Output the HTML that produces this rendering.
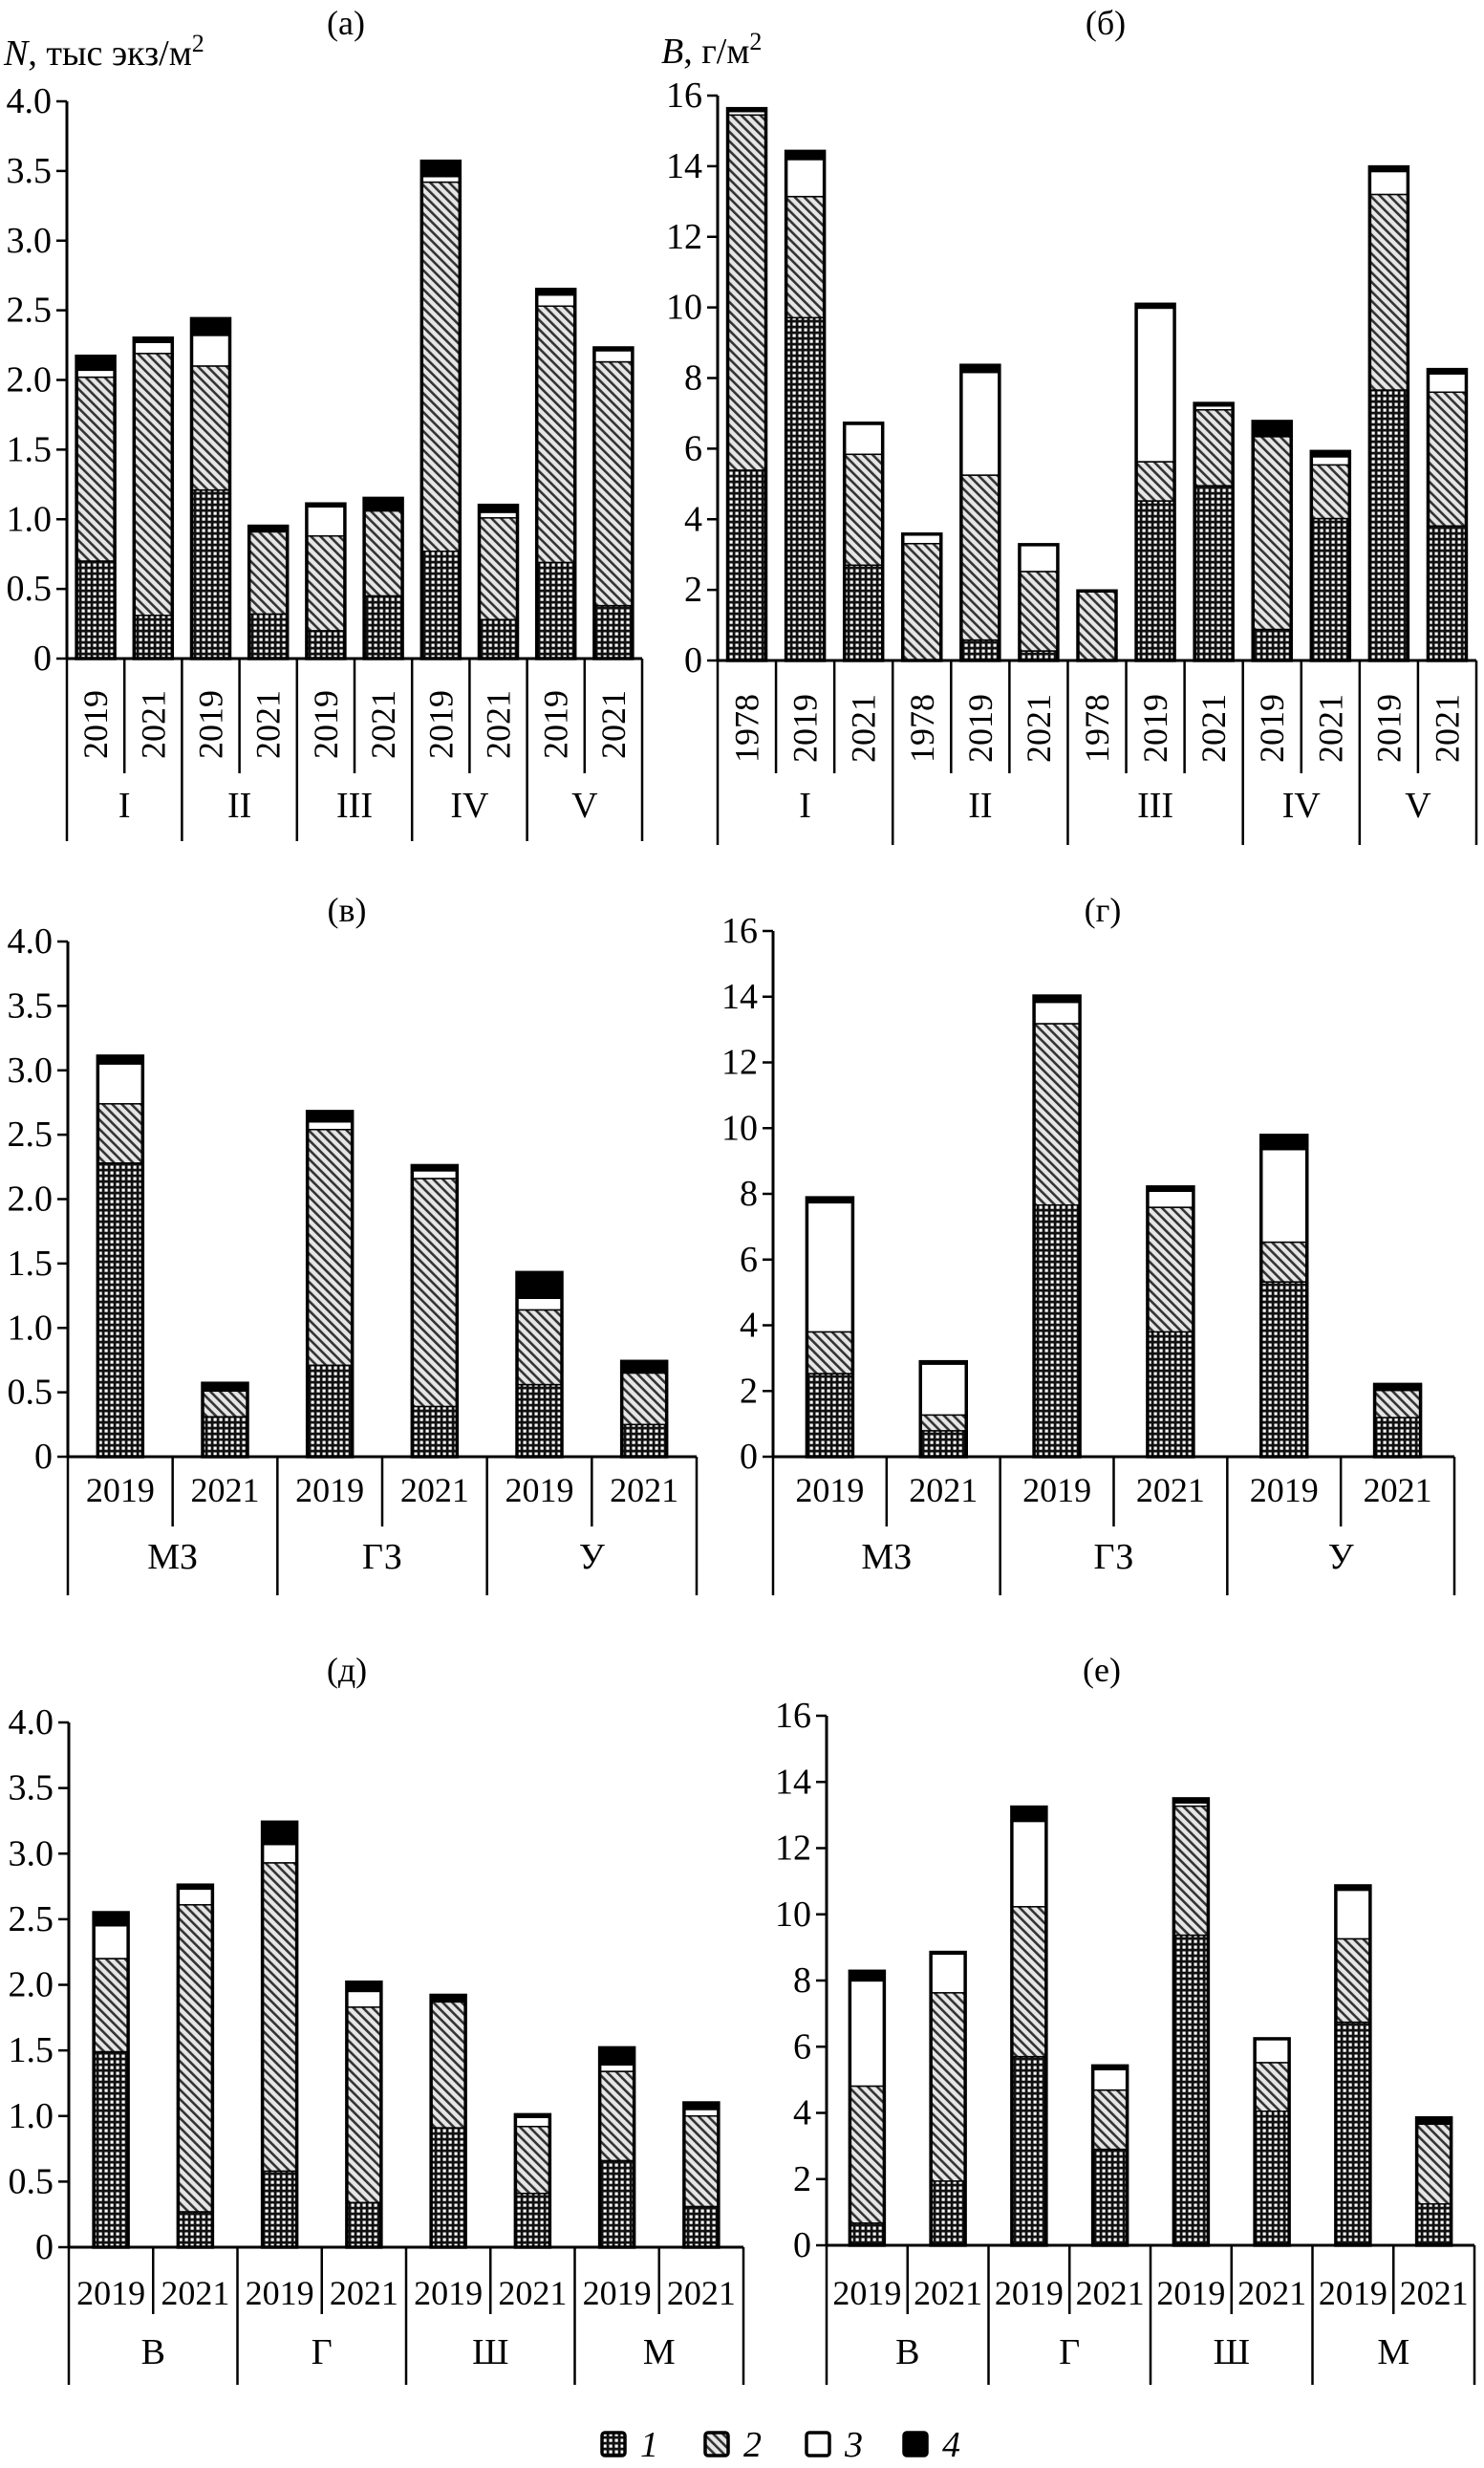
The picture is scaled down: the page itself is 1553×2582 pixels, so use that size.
<!DOCTYPE html>
<html><head><meta charset="utf-8">
<style>
html,body{margin:0;padding:0;background:#fff;}
svg{display:block;}
text{font-family:"Liberation Serif","DejaVu Serif",serif;fill:#000;}
</style></head>
<body>
<svg id="chart" xmlns="http://www.w3.org/2000/svg" width="1553" height="2582" viewBox="0 0 1553 2582">
<defs>
<pattern id="pGrid" patternUnits="userSpaceOnUse" width="6" height="6">
<rect width="6" height="6" fill="#111"/>
<rect x="1.5" y="1.5" width="3.2" height="3.2" fill="#fff"/>
</pattern>
<pattern id="pHatch" patternUnits="userSpaceOnUse" width="7" height="7" patternTransform="rotate(-45)">
<rect width="7" height="7" fill="#e6e6e6"/>
<rect x="0" y="0" width="2.6" height="7" fill="#333"/>
</pattern>
</defs>
<g id="layer"></g>
</svg>
<script>
// ===== Data =====
const catsA = ['2019','2021','2019','2021','2019','2021','2019','2021','2019','2021'];
const groupsA = ['I','II','III','IV','V'];
const groupSizesA = [2,2,2,2,2];
const a1 = [0.70,0.31,1.21,0.32,0.20,0.45,0.77,0.28,0.69,0.38];
const a2 = [1.32,1.88,0.89,0.59,0.68,0.61,2.65,0.73,1.84,1.75];
const a3 = [0.05,0.08,0.22,0.00,0.21,0.00,0.04,0.04,0.08,0.08];
const a4 = [0.10,0.03,0.12,0.04,0.02,0.09,0.11,0.05,0.04,0.02];
const ticksA = ['0','0.5','1.0','1.5','2.0','2.5','3.0','3.5','4.0'];
const catsB = ['1978','2019','2021','1978','2019','2021','1978','2019','2021','2019','2021','2019','2021'];
const groupsB = ['I','II','III','IV','V'];
const groupSizesB = [3,3,3,2,2];
const b1 = [5.39,9.71,2.70,0.00,0.58,0.27,0.00,4.52,4.95,0.88,4.02,7.66,3.81];
const b2 = [10.06,3.43,3.14,3.31,4.67,2.25,1.97,1.11,2.15,5.46,1.52,5.54,3.79];
const b3 = [0.10,1.05,0.85,0.27,2.91,0.76,0.00,4.35,0.11,0.00,0.23,0.65,0.52];
const b4 = [0.08,0.23,0.03,0.00,0.20,0.00,0.00,0.11,0.07,0.43,0.15,0.13,0.12];
const ticksB = ['0','2','4','6','8','10','12','14','16'];
const catsV = ['2019','2021','2019','2021','2019','2021'];
const groupsV = ['МЗ','ГЗ','У'];
const groupSizesV = [2,2,2];
const v1 = [2.28,0.31,0.71,0.39,0.56,0.25];
const v2 = [0.46,0.20,1.83,1.77,0.58,0.40];
const v3 = [0.31,0.00,0.06,0.06,0.09,0.00];
const v4 = [0.06,0.06,0.08,0.04,0.20,0.09];
const catsG = ['2019','2021','2019','2021','2019','2021'];
const groupsG = ['МЗ','ГЗ','У'];
const groupSizesG = [2,2,2];
const g1 = [2.53,0.79,7.66,3.80,5.32,1.19];
const g2 = [1.27,0.48,5.52,3.79,1.21,0.83];
const g3 = [3.93,1.55,0.65,0.49,2.82,0.00];
const g4 = [0.15,0.07,0.19,0.13,0.43,0.18];
const catsD = ['2019','2021','2019','2021','2019','2021','2019','2021'];
const groupsD = ['В','Г','Ш','М'];
const groupSizesD = [2,2,2,2];
const d1 = [1.49,0.27,0.58,0.34,0.91,0.41,0.66,0.31];
const d2 = [0.71,2.34,2.35,1.49,0.96,0.51,0.68,0.69];
const d3 = [0.25,0.12,0.14,0.12,0.00,0.07,0.05,0.05];
const d4 = [0.10,0.03,0.17,0.07,0.05,0.02,0.13,0.05];
const catsE = ['2019','2021','2019','2021','2019','2021','2019','2021'];
const groupsE = ['В','Г','Ш','М'];
const groupSizesE = [2,2,2,2];
const e1 = [0.67,1.94,5.70,2.90,9.37,4.05,6.74,1.25];
const e2 = [4.14,5.69,4.53,1.79,3.90,1.47,2.52,2.41];
const e3 = [3.18,1.17,2.58,0.62,0.10,0.72,1.47,0.00];
const e4 = [0.29,0.05,0.43,0.11,0.12,0.00,0.13,0.19];
const legendLabels = ['1','2','3','4'];

// ===== Rendering =====
const NS = 'http://www.w3.org/2000/svg';
const layer = document.getElementById('layer');
function mk(tag, attrs, parent){
  const el = document.createElementNS(NS, tag);
  for (const k in attrs) el.setAttribute(k, attrs[k]);
  (parent||layer).appendChild(el);
  return el;
}
const fills = ['url(#pGrid)','url(#pHatch)','#fff','#000'];
const segNames = ['seg-group-1','seg-group-2','seg-group-3','seg-group-4'];

function drawPanel(p){
  const g = mk('g', {});
  
  
  const n = p.cats.length;
  const cw = (p.right - p.ax) / n;
  const yScale = v => p.y0 - v * (p.y0 - p.ytop) / p.max;
  const t = mk('text', {x:p.titleX, y:p.titleY, 'font-size':36, 'text-anchor':'middle', 'dominant-baseline':'central'}, g);
  t.textContent = p.title;
  
  
  for (let i=0;i<n;i++){
    const cx = p.ax + cw*(i+0.5);
    const bx = cx - p.bw/2;
    let acc = 0;
    const bg = mk('g', {}, g);
    
    
    for (let s=0;s<4;s++){
      const v = p.series[s][i];
      if (v <= 0) continue;
      const yTop = yScale(acc + v), yBot = yScale(acc);
      const r = mk('rect', {x:bx, y:yTop, width:p.bw, height:Math.max(0,yBot-yTop), fill:fills[s], stroke:'#000', 'stroke-width':1.5}, bg);
      
      
      acc += v;
    }
    const outline = mk('rect', {x:bx, y:yScale(acc), width:p.bw, height:p.y0 - yScale(acc), fill:'none', stroke:'#000', 'stroke-width':3.5}, bg);
    
    
    let yl;
    if (p.rotate){
      yl = mk('text', {x:cx, y:p.yearY, 'font-size':36, 'text-anchor':'middle', 'dominant-baseline':'central', transform:'rotate(-90 '+cx+' '+p.yearY+')'}, g);
    } else {
      yl = mk('text', {x:cx, y:p.yearY, 'font-size':36, 'text-anchor':'middle', 'dominant-baseline':'central'}, g);
    }
    yl.textContent = p.cats[i];
    
    
  }
  const yAxis = mk('line', {x1:p.ax, y1:p.ytop, x2:p.ax, y2:p.y0, stroke:'#000', 'stroke-width':3}, g);
  
  
  const xAxis = mk('line', {x1:p.ax, y1:p.y0, x2:p.right, y2:p.y0, stroke:'#000', 'stroke-width':3}, g);
  
  
  for (let k=0;k<p.ticks.length;k++){
    const v = p.max * k/(p.ticks.length-1);
    const y = yScale(v);
    const tk = mk('line', {x1:p.ax-11, y1:y, x2:p.ax, y2:y, stroke:'#000', 'stroke-width':2.5}, g);
    
    
    const tl = mk('text', {x:p.ax-16, y:y, 'font-size':38, 'text-anchor':'end', 'dominant-baseline':'central'}, g);
    tl.textContent = p.ticks[k];
    
    
  }
  let idx = 0;
  const bounds = [0];
  p.sizes.forEach(s => { idx += s; bounds.push(idx); });
  for (let i=0;i<=n;i++){
    const x = p.ax + cw*i;
    const isGroup = bounds.indexOf(i) >= 0;
    const ln = mk('line', {x1:x, y1:p.y0, x2:x, y2:isGroup ? p.groupLineEnd : p.yearLineEnd, stroke:'#000', 'stroke-width':2.5}, g);
    
    
  }
  for (let gi=0; gi<p.groups.length; gi++){
    const cx = p.ax + cw*(bounds[gi] + bounds[gi+1])/2;
    const gl = mk('text', {x:cx, y:p.groupY, 'font-size':38, 'text-anchor':'middle', 'dominant-baseline':'central'}, g);
    gl.textContent = p.groups[gi];
    
    
  }
}

const panels = [
  {name:'panel-a', title:'(а)', titleX:362, titleY:24, ax:70, right:672, y0:689, ytop:106, max:4, ticks:ticksA,
   bw:40, cats:catsA, groups:groupsA, sizes:groupSizesA, series:[a1,a2,a3,a4], rotate:true,
   yearY:758, yearLineEnd:809, groupY:843, groupLineEnd:880},
  {name:'panel-b', title:'(б)', titleX:1157, titleY:24, ax:751, right:1545, y0:691, ytop:100, max:16, ticks:ticksB,
   bw:40, cats:catsB, groups:groupsB, sizes:groupSizesB, series:[b1,b2,b3,b4], rotate:true,
   yearY:762, yearLineEnd:809, groupY:843, groupLineEnd:884},
  {name:'panel-v', title:'(в)', titleX:363, titleY:952, ax:71, right:729, y0:1524, ytop:985, max:4, ticks:ticksA,
   bw:47, cats:catsV, groups:groupsV, sizes:groupSizesV, series:[v1,v2,v3,v4], rotate:false,
   yearY:1559, yearLineEnd:1597, groupY:1629, groupLineEnd:1669},
  {name:'panel-g', title:'(г)', titleX:1154, titleY:952, ax:809, right:1522, y0:1524, ytop:974, max:16, ticks:ticksB,
   bw:48, cats:catsG, groups:groupsG, sizes:groupSizesG, series:[g1,g2,g3,g4], rotate:false,
   yearY:1559, yearLineEnd:1597, groupY:1629, groupLineEnd:1669},
  {name:'panel-d', title:'(д)', titleX:363, titleY:1747, ax:72, right:778, y0:2351, ytop:1802, max:4, ticks:ticksA,
   bw:36, cats:catsD, groups:groupsD, sizes:groupSizesD, series:[d1,d2,d3,d4], rotate:false,
   yearY:2399, yearLineEnd:2421, groupY:2461, groupLineEnd:2495},
  {name:'panel-e', title:'(е)', titleX:1153, titleY:1747, ax:865, right:1543, y0:2349, ytop:1795, max:16, ticks:ticksB,
   bw:36, cats:catsE, groups:groupsE, sizes:groupSizesE, series:[e1,e2,e3,e4], rotate:false,
   yearY:2399, yearLineEnd:2421, groupY:2461, groupLineEnd:2495}
];
panels.forEach(drawPanel);

const yt1 = mk('text', {x:4, y:68, 'font-size':38});
yt1.innerHTML = '<tspan font-style="italic">N</tspan>, тыс экз/м<tspan font-size="26" dy="-14">2</tspan>';


const yt2 = mk('text', {x:692, y:66, 'font-size':38});
yt2.innerHTML = '<tspan font-style="italic">B</tspan>, г/м<tspan font-size="26" dy="-14">2</tspan>';



const legX = [630, 738, 844, 946];
const lg = mk('g', {});


for (let i=0;i<4;i++){
  const e = mk('g', {}, lg);
  
  
  const sw = mk('rect', {x:legX[i], y:2545, width:24, height:24, rx:3, fill:fills[i], stroke:'#000', 'stroke-width':3.5}, e);
  
  
  const lt = mk('text', {x:legX[i]+40, y:2570, 'font-size':38, 'font-style':'italic'}, e);
  lt.textContent = legendLabels[i];
  
  
}
</script>
</body></html>
